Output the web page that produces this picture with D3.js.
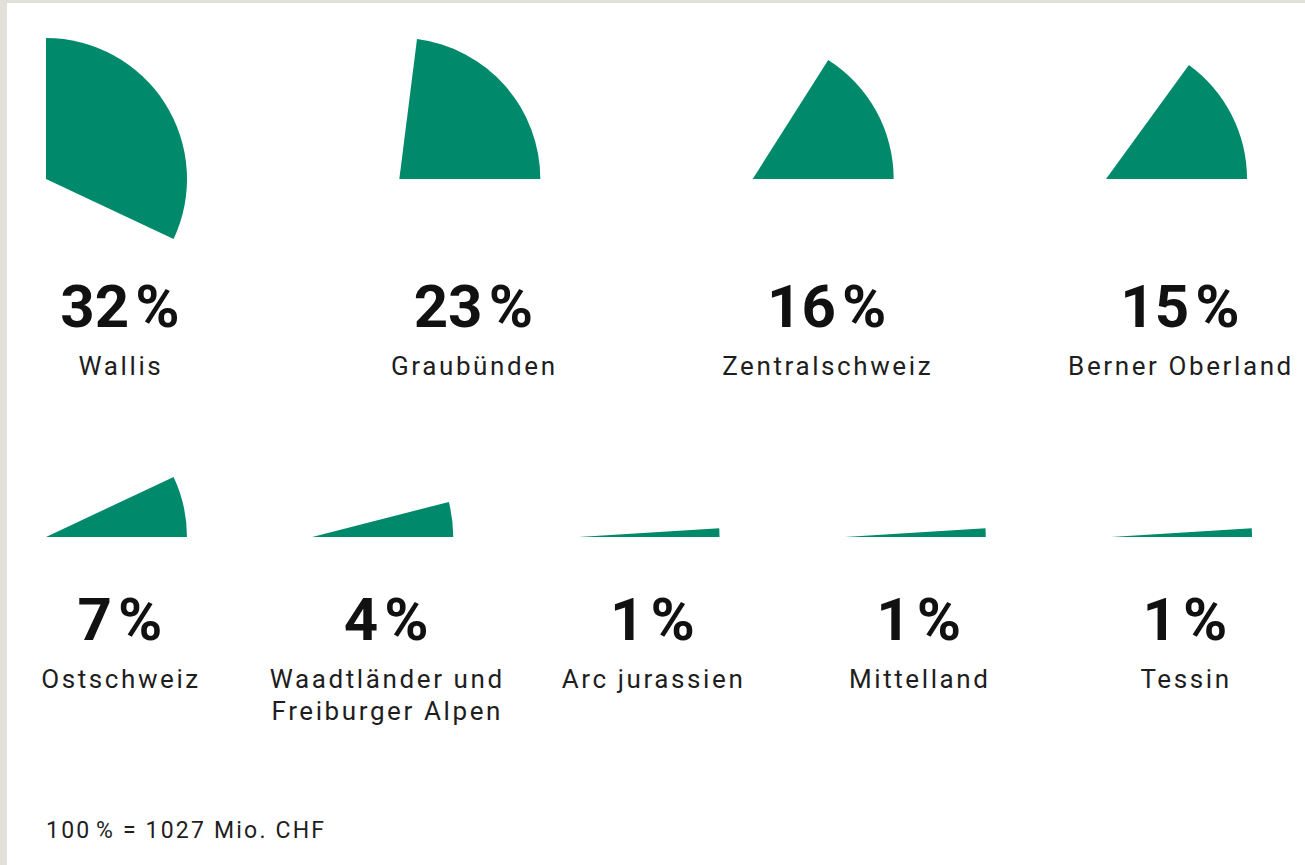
<!DOCTYPE html>
<html>
<head>
<meta charset="utf-8">
<script src="https://d3js.org/d3.v7.min.js"></script>
<style>
  html, body { margin: 0; padding: 0; background: #e1e1da; }
  svg { display: block; }
  .pct { font-family: Roboto, "Noto Sans", sans-serif; font-weight: 700; fill: #111; }
  .lbl { font-family: Roboto, "Noto Sans", sans-serif; font-weight: 400; fill: #1e1e1e; }
</style>
</head>
<body>
<svg width="1305" height="865"></svg>
<script>
// shares of 1027 Mio. CHF by region
const row1 = ["Wallis", "Graubünden", "Zentralschweiz", "Berner Oberland"];
const row1Values = [32, 23, 16, 15];
const row2 = [["Ostschweiz"], ["Waadtländer und", "Freiburger Alpen"], ["Arc jurassien"], ["Mittelland"], ["Tessin"]];
const row2Values = [7, 4, 1, 1, 1];
const footnote = "100\u200a% = 1027 Mio. CHF";

let svg = d3.select("svg"),
    width = 1305,
    height = 865,
    radius = 141,
    green = "#008a6b";

// white card with grey frame on top / left
svg.append("rect")
    .attr("x", 7).attr("y", 3)
    .attr("width", width - 7).attr("height", height - 3)
    .attr("fill", "#fff");

let angle = d3.scaleLinear().domain([0, 100]).range([0, 2 * Math.PI]);
let arc = d3.arc().innerRadius(0).outerRadius(radius);

function drawRow(names, values, xRange, baseY, pctY, lblY) {
    let x = d3.scalePoint().domain(d3.range(names.length)).range(xRange);

    let g = svg.append("g")
        .selectAll("g")
        .data(values)
        .enter()
        .append("g")
        .attr("transform", (d, i) => `translate(${x(i)},0)`);

    g.append("path")
        .attr("transform", `translate(-74,${baseY})`)
        .attr("fill", green)
        .attr("d", function(d) {
            let sweep = angle(d),
                start = Math.max(0, Math.PI / 2 - sweep);
            return arc({ startAngle: start, endAngle: start + sweep });
        });

    g.append("text")
        .attr("class", "pct")
        .attr("y", pctY)
        .attr("text-anchor", "middle")
        .style("font-size", "60px")
        .text(d => d + "\u200a%");

    g.append("text")
        .attr("class", "lbl")
        .attr("y", lblY)
        .attr("text-anchor", "middle")
        .style("font-size", "26px")
        .style("letter-spacing", "2.6px")
        .selectAll("tspan")
        .data((d, i) => [].concat(names[i]))
        .enter()
        .append("tspan")
        .attr("x", 1)
        .attr("dy", (d, i) => i ? 32 : 0)
        .text(d => d);
}

drawRow(row1, row1Values, [120, 1180], 179, 327, 375);
drawRow(row2, row2Values, [120, 1185], 537, 640, 688);

svg.append("text")
    .attr("class", "lbl")
    .attr("x", 46)
    .attr("y", 838)
    .style("font-size", "23px")
    .style("letter-spacing", "2.2px")
    .text(footnote);
</script>
</body>
</html>
